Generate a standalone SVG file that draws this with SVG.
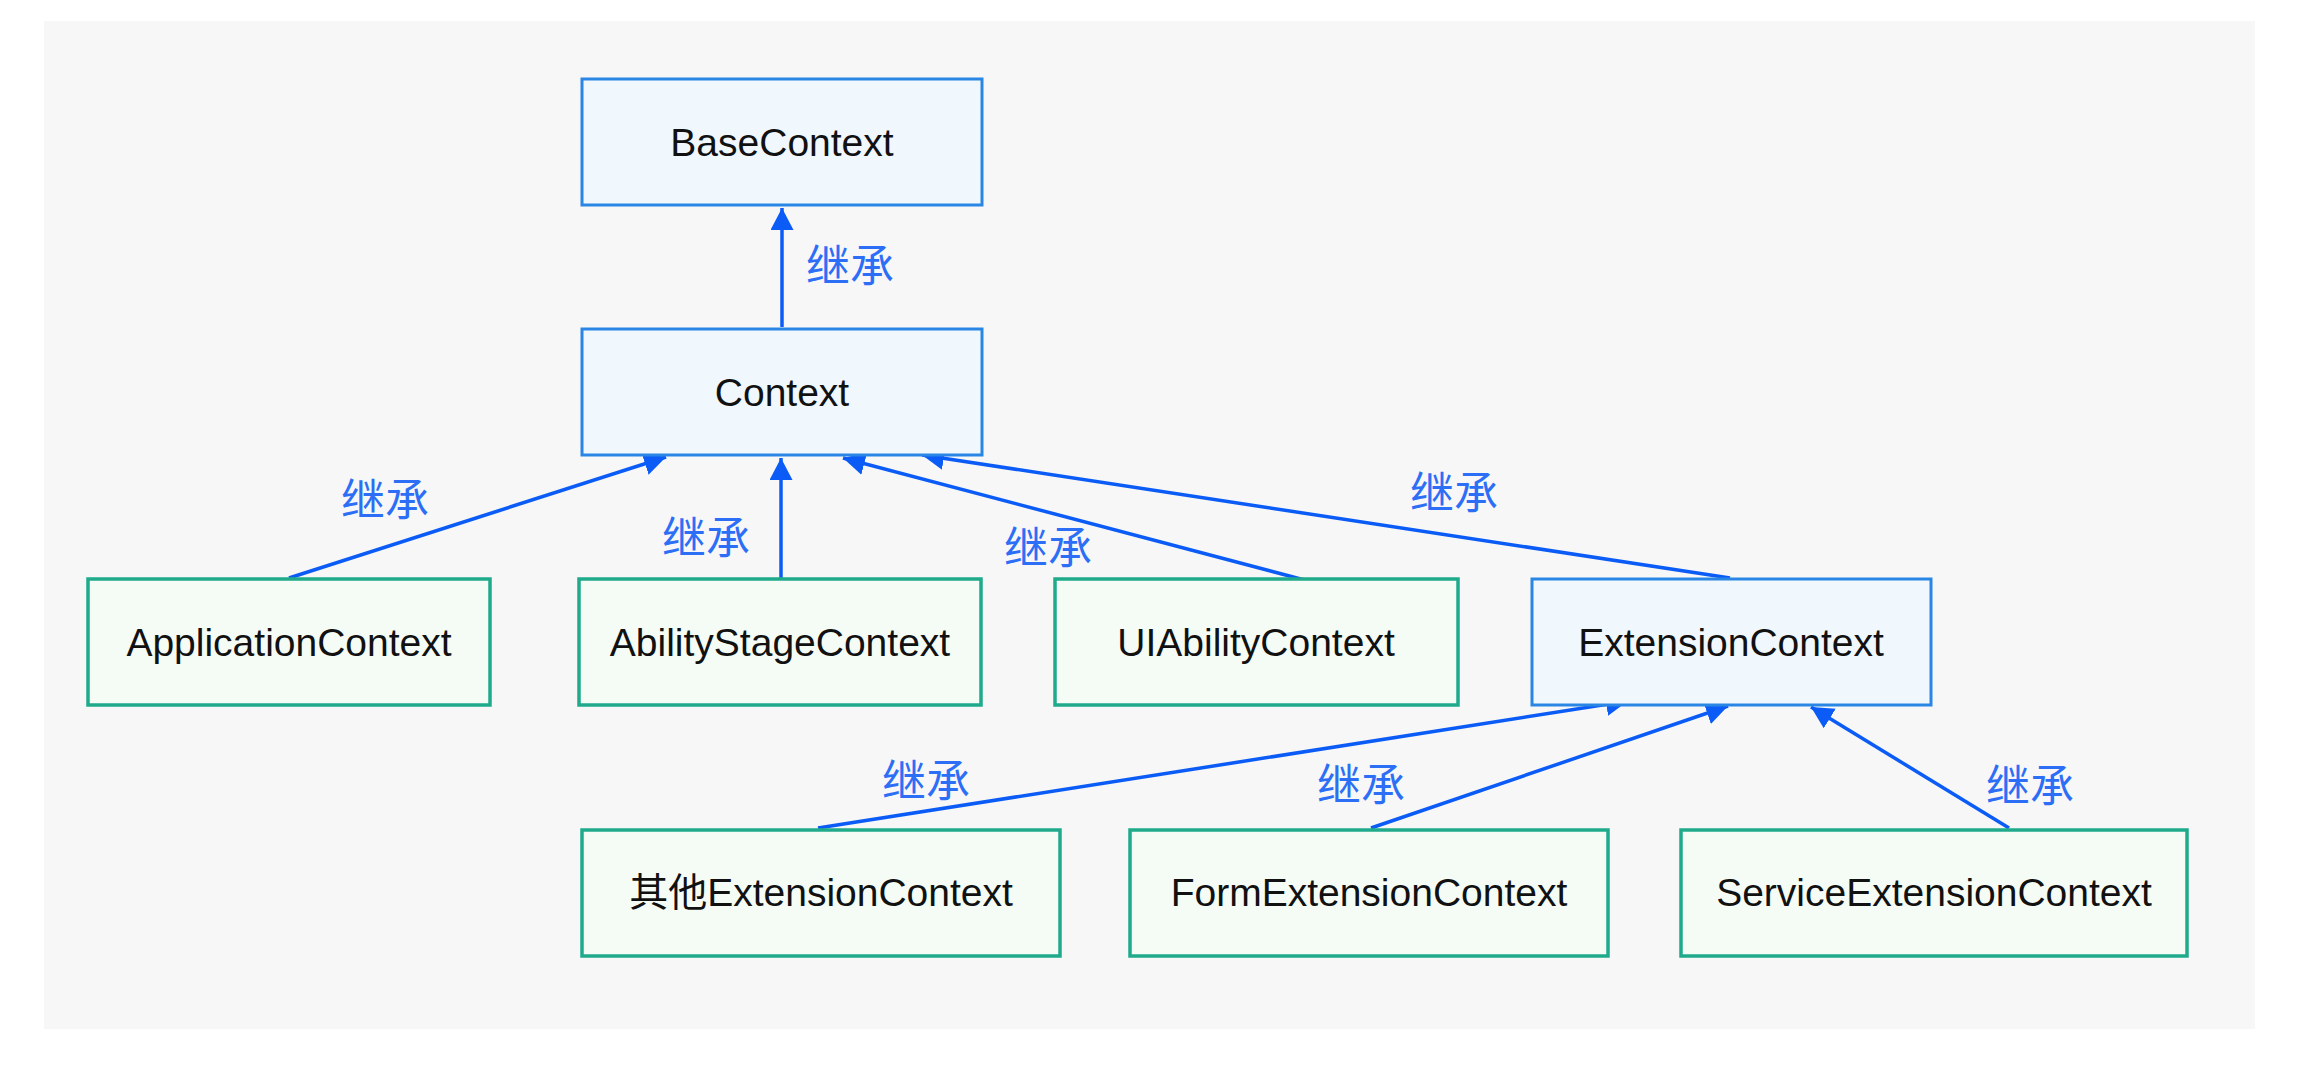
<svg xmlns="http://www.w3.org/2000/svg" width="2322" height="1070" viewBox="0 0 2322 1070">
<style>
.bg{fill:#f7f7f7}
.nb{fill:#f0f7fd;stroke:#2a86e4;stroke-width:3}
.ng{fill:#f5fcf6;stroke:#1faa8b;stroke-width:3.5}
.t{font-family:"Liberation Sans",Arial,sans-serif;font-size:39px;fill:#111;text-anchor:middle}
.l{font-family:"Noto Sans CJK SC",sans-serif;font-size:44px;fill:#2c6ef6;text-anchor:middle}
.c{stroke:#0b5cf6;stroke-width:3.5;fill:none;marker-end:url(#ah)}
</style>
<defs>
<marker id="ah" markerUnits="userSpaceOnUse" markerWidth="24" markerHeight="24" refX="22" refY="11.5" orient="auto">
<path d="M0,0 L22,11.5 L0,23 z" fill="#0b5cf6"/>
</marker>
</defs>
<rect x="0" y="0" width="2322" height="1070" fill="#ffffff"/>
<rect class="bg" x="44" y="21" width="2211" height="1008"/>
<g id="connectors">
<line class="c" x1="782" y1="327" x2="782" y2="208"/>
<line class="c" x1="289" y1="578" x2="666" y2="457"/>
<line class="c" x1="781" y1="578" x2="781" y2="458"/>
<line class="c" x1="1312" y1="582" x2="843" y2="458"/>
<line class="c" x1="1730" y1="578" x2="922" y2="455"/>
<line class="c" x1="818" y1="828" x2="1628" y2="701"/>
<line class="c" x1="1371" y1="828" x2="1728" y2="706"/>
<line class="c" x1="2009" y1="828" x2="1811" y2="707"/>
<text class="l" x="850" y="282">继承</text>
<text class="l" x="385" y="516">继承</text>
<text class="l" x="706" y="554">继承</text>
<text class="l" x="1048" y="564">继承</text>
<text class="l" x="1454" y="509">继承</text>
<text class="l" x="926" y="797">继承</text>
<text class="l" x="1361" y="801">继承</text>
<text class="l" x="2030" y="802">继承</text>
</g>
<g id="BaseContext"><rect class="nb" x="582" y="79" width="400" height="126"/><text class="t" x="782" y="156">BaseContext</text></g>
<g id="Context"><rect class="nb" x="582" y="329" width="400" height="126"/><text class="t" x="782" y="406">Context</text></g>
<g id="ApplicationContext"><rect class="ng" x="88" y="579" width="402" height="126"/><text class="t" x="289" y="656">ApplicationContext</text></g>
<g id="AbilityStageContext"><rect class="ng" x="579" y="579" width="402" height="126"/><text class="t" x="780" y="656">AbilityStageContext</text></g>
<g id="UIAbilityContext"><rect class="ng" x="1055" y="579" width="403" height="126"/><text class="t" x="1256" y="656">UIAbilityContext</text></g>
<g id="ExtensionContext"><rect class="nb" x="1532" y="579" width="399" height="126"/><text class="t" x="1731" y="656">ExtensionContext</text></g>
<g id="OtherExtensionContext"><rect class="ng" x="582" y="830" width="478" height="126"/><text class="t" x="821" y="906"><tspan style="font-family:'Noto Sans CJK SC',sans-serif">其他</tspan>ExtensionContext</text></g>
<g id="FormExtensionContext"><rect class="ng" x="1130" y="830" width="478" height="126"/><text class="t" x="1369" y="906">FormExtensionContext</text></g>
<g id="ServiceExtensionContext"><rect class="ng" x="1681" y="830" width="506" height="126"/><text class="t" x="1934" y="906">ServiceExtensionContext</text></g>
</svg>
